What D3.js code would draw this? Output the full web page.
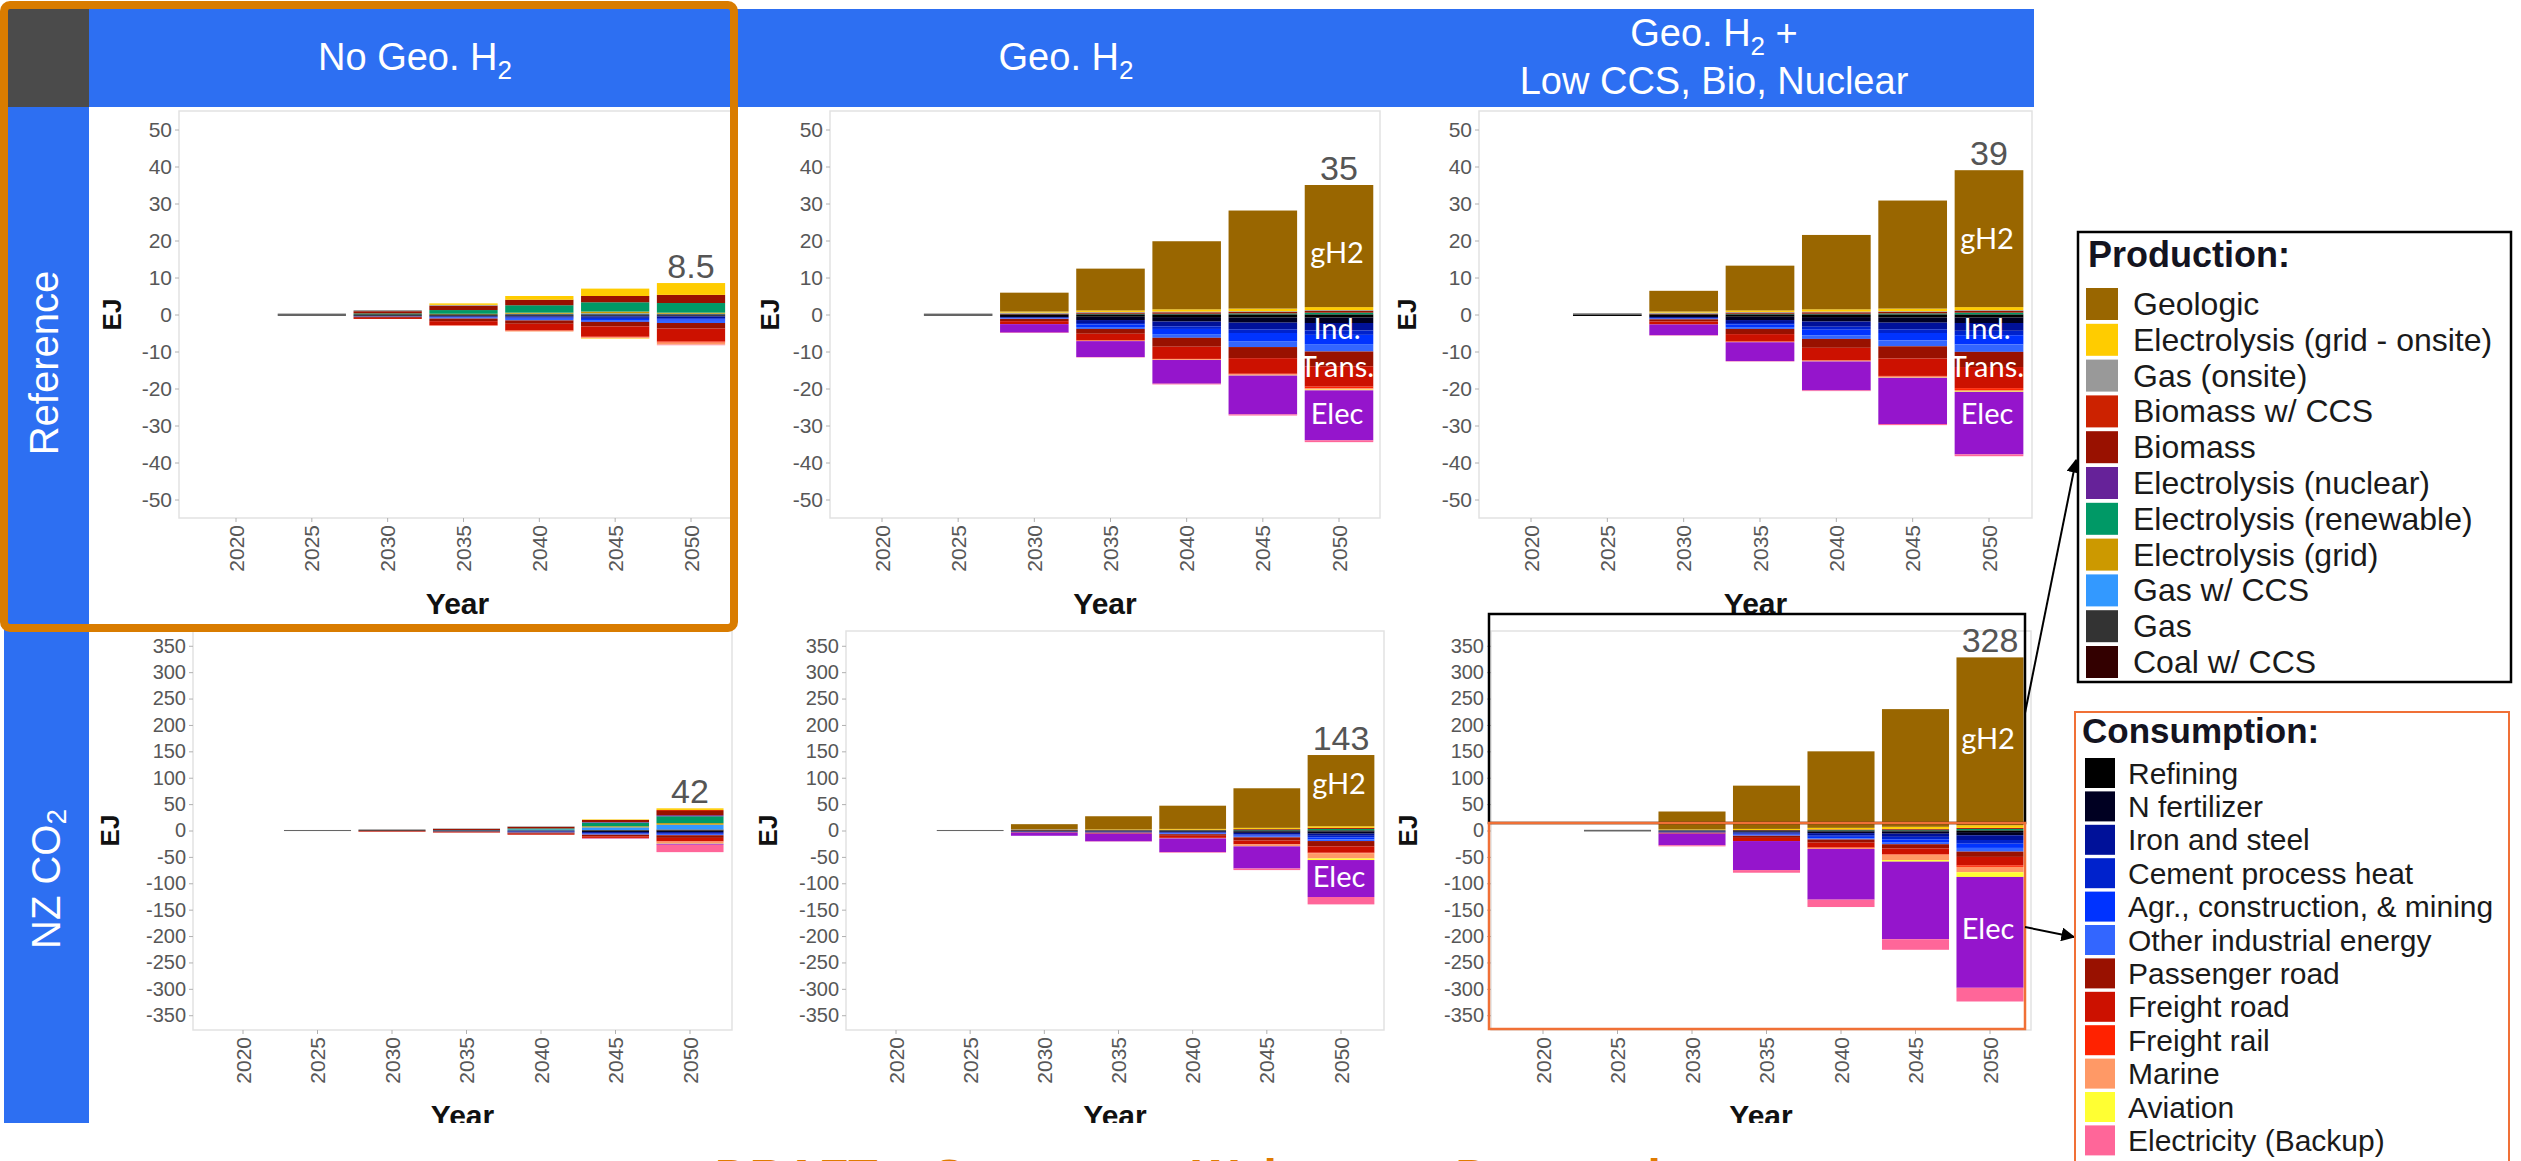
<!DOCTYPE html>
<html>
<head>
<meta charset="utf-8">
<script src="https://cdn.jsdelivr.net/npm/d3@7"></script>
<style>
  html, body { margin: 0; padding: 0; background: #fff; }
  svg { display: block; }
</style>
</head>
<body>
<svg id="chart" width="2521" height="1161"></svg>
<script>
// ---------------------------------------------------------------
// Hydrogen production (positive) and consumption (negative), EJ
// ---------------------------------------------------------------
const years = [2020, 2025, 2030, 2035, 2040, 2045, 2050];

const productionKeys = [
  "Geologic", "Electrolysis (grid - onsite)", "Gas (onsite)", "Biomass w/ CCS",
  "Biomass", "Electrolysis (nuclear)", "Electrolysis (renewable)",
  "Electrolysis (grid)", "Gas w/ CCS", "Gas", "Coal w/ CCS"
];
const productionColors = [
  "#996600", "#ffcc00", "#999999", "#cc2200", "#991100", "#662299",
  "#009966", "#cc9900", "#3399ff", "#333333", "#330000"
];

const consumptionKeys = [
  "Refining", "N fertilizer", "Iron and steel", "Cement process heat",
  "Agr., construction, & mining", "Other industrial energy", "Passenger road",
  "Freight road", "Freight rail", "Marine", "Aviation", "Electricity (Backup)"
];
const consumptionColors = [
  "#000000", "#000022", "#001199", "#0022cc", "#0033ff", "#3366ff",
  "#991100", "#cc1100", "#ff2200", "#ff9966", "#ffff33", "#ff6699"
];
// power-sector hydrogen use, stacked just above the backup electricity
const powerKey = "Electricity";
const powerColor = "#9515cc";

const rowLabels = ["Reference", "NZ CO"];
const columnTitles = [["No Geo. H"], ["Geo. H"], ["Geo. H", "Low CCS, Bio, Nuclear"]];
const refTicks = [50, 40, 30, 20, 10, 0, -10, -20, -30, -40, -50];
const nzTicks = [350, 300, 250, 200, 150, 100, 50, 0, -50, -100, -150, -200, -250, -300, -350];

// ---- Reference, no geologic H2 ----
const refNoGeoSupply = {
  "Electrolysis (grid - onsite)": [0, 0, 0, 0.4, 1.0, 2.0, 3.2],
  "Gas (onsite)":                 [0, 0.3, 0.3, 0.2, 0, 0, 0],
  "Biomass":                      [0, 0, 0.6, 1.2, 1.5, 1.7, 2.2],
  "Electrolysis (renewable)":     [0, 0, 0.3, 1.0, 2.0, 2.5, 2.6],
  "Electrolysis (grid)":          [0, 0, 0, 0.2, 0.3, 0.5, 0.3],
  "Gas w/ CCS":                   [0, 0, 0, 0, 0.2, 0.3, 0.2]
};
const refNoGeoDemand = {
  "Refining":                     [0, 0.3, 0.3, 0.3, 0.3, 0.3, 0.3],
  "N fertilizer":                 [0, 0, 0.1, 0.2, 0.2, 0.2, 0.2],
  "Iron and steel":               [0, 0, 0.1, 0.2, 0.3, 0.4, 0.5],
  "Cement process heat":          [0, 0, 0, 0.1, 0.2, 0.3, 0.3],
  "Agr., construction, & mining": [0, 0, 0, 0.1, 0.2, 0.3, 0.4],
  "Other industrial energy":      [0, 0, 0.1, 0.2, 0.4, 0.5, 0.6],
  "Passenger road":               [0, 0, 0.3, 0.7, 0.9, 1.2, 1.5],
  "Freight road":                 [0, 0, 0.3, 1.1, 1.8, 2.8, 3.5],
  "Freight rail":                 [0, 0, 0, 0.1, 0.1, 0.2, 0.3],
  "Marine":                       [0, 0, 0, 0, 0.2, 0.3, 0.4],
  "Aviation":                     [0, 0, 0, 0, 0, 0.1, 0.1],
  "Electricity (Backup)":         [0, 0, 0, 0, 0, 0, 0.2]
};

// ---- Reference, geologic H2 ----
const refGeoSupply = {
  "Geologic":                     [0, 0, 5.1, 11.3, 18.4, 26.5, 33.0],
  "Electrolysis (grid - onsite)": [0, 0, 0.3, 0.4, 0.6, 0.7, 0.8],
  "Gas (onsite)":                 [0, 0.3, 0.3, 0.2, 0.2, 0.2, 0.2],
  "Biomass":                      [0, 0, 0.2, 0.3, 0.4, 0.4, 0.5],
  "Electrolysis (renewable)":     [0, 0, 0, 0.2, 0.2, 0.3, 0.5]
};
const refGeoDemand = {
  "Refining":                     [0, 0.3, 0.4, 0.6, 0.7, 0.8, 0.8],
  "N fertilizer":                 [0, 0, 0.3, 0.9, 1.2, 1.4, 1.5],
  "Iron and steel":               [0, 0, 0.2, 0.8, 1.3, 1.8, 2.0],
  "Cement process heat":          [0, 0, 0.1, 0.4, 0.7, 1.0, 1.2],
  "Agr., construction, & mining": [0, 0, 0.1, 0.7, 1.4, 2.2, 2.5],
  "Other industrial energy":      [0, 0, 0.1, 0.5, 1.0, 1.6, 2.0],
  "Passenger road":               [0, 0, 0.6, 1.3, 2.4, 3.0, 4.0],
  "Freight road":                 [0, 0, 0.8, 1.8, 3.3, 4.2, 5.5],
  "Freight rail":                 [0, 0, 0, 0.1, 0.1, 0.2, 0.5],
  "Marine":                       [0, 0, 0, 0.1, 0.2, 0.2, 0.3],
  "Aviation":                     [0, 0, 0, 0, 0, 0.1, 0.2],
  "Electricity":                  [0, 0, 2.3, 4.3, 6.4, 10.5, 13.5],
  "Electricity (Backup)":         [0, 0, 0.1, 0.1, 0.2, 0.3, 0.5]
};

// ---- Reference, geologic H2 + low CCS, bio, nuclear ----
const refLowSupply = {
  "Geologic":                     [0, 0, 5.6, 12.1, 20.1, 29.2, 37.0],
  "Electrolysis (grid - onsite)": [0, 0, 0.3, 0.4, 0.6, 0.7, 0.8],
  "Gas (onsite)":                 [0, 0.4, 0.3, 0.2, 0.2, 0.2, 0.2],
  "Biomass":                      [0, 0, 0.2, 0.3, 0.4, 0.4, 0.5],
  "Electrolysis (renewable)":     [0, 0, 0, 0.2, 0.2, 0.3, 0.5]
};
const refLowDemand = {
  "Refining":                     [0, 0.4, 0.4, 0.6, 0.7, 0.8, 0.8],
  "N fertilizer":                 [0, 0, 0.3, 0.9, 1.2, 1.4, 1.5],
  "Iron and steel":               [0, 0, 0.3, 0.8, 1.4, 1.8, 2.1],
  "Cement process heat":          [0, 0, 0.1, 0.4, 0.8, 1.0, 1.2],
  "Agr., construction, & mining": [0, 0, 0.1, 0.7, 1.5, 2.0, 2.5],
  "Other industrial energy":      [0, 0, 0.1, 0.5, 1.0, 1.6, 2.0],
  "Passenger road":               [0, 0, 0.6, 1.4, 2.4, 3.3, 4.1],
  "Freight road":                 [0, 0, 0.8, 2.0, 3.4, 4.7, 5.7],
  "Freight rail":                 [0, 0, 0, 0.1, 0.1, 0.2, 0.5],
  "Marine":                       [0, 0, 0, 0.1, 0.2, 0.2, 0.3],
  "Aviation":                     [0, 0, 0, 0, 0, 0.1, 0.2],
  "Electricity":                  [0, 0, 2.9, 5.1, 7.8, 12.5, 16.9],
  "Electricity (Backup)":         [0, 0, 0.1, 0.1, 0.2, 0.3, 0.5]
};

// ---- Net-zero CO2, no geologic H2 ----
const nzNoGeoSupply = {
  "Electrolysis (grid - onsite)": [0, 0, 0, 0, 0, 1, 3],
  "Gas (onsite)":                 [0, 1, 1.5, 1, 1, 0, 0],
  "Biomass w/ CCS":               [0, 0, 0, 0, 0, 0, 2],
  "Biomass":                      [0, 0, 1, 2, 3, 4, 8],
  "Electrolysis (nuclear)":       [0, 0, 0, 0, 0, 1, 2],
  "Electrolysis (renewable)":     [0, 0, 0, 0, 2, 7, 13],
  "Electrolysis (grid)":          [0, 0, 0, 0, 0, 2, 3],
  "Gas w/ CCS":                   [0, 0, 0, 1, 2, 5, 9],
  "Gas":                          [0, 0, 0, 0, 0, 1, 1],
  "Coal w/ CCS":                  [0, 0, 0, 0, 0, 0, 1]
};
const nzNoGeoDemand = {
  "Refining":                     [0, 1, 1, 1, 0.5, 1, 1],
  "N fertilizer":                 [0, 0, 0, 0.5, 1, 2, 2],
  "Iron and steel":               [0, 0, 0, 0.5, 1, 2, 2],
  "Cement process heat":          [0, 0, 0, 0, 0.5, 1, 1.5],
  "Agr., construction, & mining": [0, 0, 0, 0, 0.5, 1, 1.5],
  "Other industrial energy":      [0, 0, 0, 0, 0.5, 1, 1],
  "Passenger road":               [0, 0, 0.5, 1, 2, 3, 5],
  "Freight road":                 [0, 0, 1, 1, 2, 3, 6],
  "Freight rail":                 [0, 0, 0, 0, 0, 0.5, 1],
  "Marine":                       [0, 0, 0, 0, 0, 0.5, 3],
  "Aviation":                     [0, 0, 0, 0, 0, 0, 1],
  "Electricity":                  [0, 0, 0, 0, 0, 0.5, 2],
  "Electricity (Backup)":         [0, 0, 0, 0, 0, 0.5, 14]
};

// ---- Net-zero CO2, geologic H2 ----
const nzGeoSupply = {
  "Geologic":                     [0, 0, 10, 25, 44, 75, 135],
  "Electrolysis (grid - onsite)": [0, 0, 0, 1, 1.5, 2, 3],
  "Gas (onsite)":                 [0, 1, 1, 0.5, 0, 0, 0],
  "Biomass":                      [0, 0, 1, 0.5, 1, 1.5, 2],
  "Electrolysis (renewable)":     [0, 0, 0, 0, 0.5, 1.5, 3]
};
const nzGeoDemand = {
  "Refining":                     [0, 1, 1, 1, 1, 1.5, 2],
  "N fertilizer":                 [0, 0, 1, 1, 1.5, 3, 4],
  "Iron and steel":               [0, 0, 0.5, 0.8, 1.5, 3, 4],
  "Cement process heat":          [0, 0, 0.5, 0.4, 1, 2, 3],
  "Agr., construction, & mining": [0, 0, 0, 0.4, 1, 2, 4],
  "Other industrial energy":      [0, 0, 0, 0.4, 1, 1.5, 3],
  "Passenger road":               [0, 0, 0.5, 1, 3, 6, 10],
  "Freight road":                 [0, 0, 0.5, 1, 4, 7, 12],
  "Freight rail":                 [0, 0, 0, 0, 0, 0.5, 1],
  "Marine":                       [0, 0, 0, 0, 1, 3, 10],
  "Aviation":                     [0, 0, 0, 0, 0, 0.5, 3],
  "Electricity":                  [0, 0, 6, 14.5, 26, 42, 70],
  "Electricity (Backup)":         [0, 0, 0, 0.5, 1, 3, 14]
};

// ---- Net-zero CO2, geologic H2 + low CCS, bio, nuclear ----
const nzLowSupply = {
  "Geologic":                     [0, 0, 34, 82, 145, 223, 318],
  "Electrolysis (grid - onsite)": [0, 0, 1, 2, 3, 4, 5],
  "Gas (onsite)":                 [0, 1.5, 1, 0, 0, 0, 0],
  "Biomass":                      [0, 0, 0, 1, 1, 1.5, 2],
  "Electrolysis (renewable)":     [0, 0, 0, 0, 1, 1.5, 3]
};
const nzLowDemand = {
  "Refining":                     [0, 1.5, 1, 1.5, 2, 2, 3],
  "N fertilizer":                 [0, 0, 1, 2, 3, 4, 6],
  "Iron and steel":               [0, 0, 1, 2.5, 4, 6, 9],
  "Cement process heat":          [0, 0, 0.5, 1.5, 3, 5, 7],
  "Agr., construction, & mining": [0, 0, 0.3, 1.5, 3, 5, 8],
  "Other industrial energy":      [0, 0, 0.2, 1, 2, 4, 7],
  "Passenger road":               [0, 0, 1, 4, 6, 8, 10],
  "Freight road":                 [0, 0, 1, 6, 9, 11, 16],
  "Freight rail":                 [0, 0, 0, 0, 1, 1, 3],
  "Marine":                       [0, 0, 0, 0, 2, 10, 10],
  "Aviation":                     [0, 0, 0, 0, 0, 3, 9],
  "Electricity":                  [0, 0, 22, 55, 96, 147, 210],
  "Electricity (Backup)":         [0, 0, 2, 5, 14, 20, 26]
};

// callouts written on the 2050 bars (label, EJ position)
const refGeoNotes = [["gH2", 17], ["Ind.", -3.5], ["Trans.", -13.7], ["Elec", -26.4]];
const refLowNotes = [["gH2", 20.8], ["Ind.", -3.5], ["Trans.", -13.7], ["Elec", -26.4]];
const nzGeoNotes = [["gH2", 91], ["Elec", -85]];
const nzLowNotes = [["gH2", 176], ["Elec", -184]];

// ---------------------------------------------------------------
const BLUE = "#2d6ff2";
const FONT = "'Liberation Sans', Arial, sans-serif";
const W = 2521, H = 1161;
const svg = d3.select("#chart");

// stacking order: production builds up from zero (last legend entry nearest zero),
// consumption builds down from zero (first legend entry nearest zero)
const stackKeys = [...productionKeys].reverse()
  .concat(consumptionKeys.slice(0, -1), [powerKey], consumptionKeys.slice(-1));
const colorOf = k => {
  const pi = productionKeys.indexOf(k);
  if (pi >= 0) return productionColors[pi];
  if (k === powerKey) return powerColor;
  return consumptionColors[consumptionKeys.indexOf(k)];
};

const defs = svg.append("defs");
defs.append("clipPath").attr("id", "pageClip")
  .append("rect").attr("x", 0).attr("y", 0).attr("width", W).attr("height", 1123);
defs.append("marker").attr("id", "arrowHead")
  .attr("viewBox", "0 0 10 10").attr("refX", 9).attr("refY", 5)
  .attr("markerWidth", 7).attr("markerHeight", 7).attr("orient", "auto")
  .append("path").attr("d", "M0,0 L10,5 L0,10 z").attr("fill", "#000");

svg.append("rect").attr("width", W).attr("height", H).attr("fill", "#fff");

// facet strips
svg.append("rect").attr("x", 89).attr("y", 9).attr("width", 2034 - 89).attr("height", 98).attr("fill", BLUE);
svg.append("rect").attr("x", 4).attr("y", 9).attr("width", 85).attr("height", 98).attr("fill", "#4b4b4b");
svg.append("rect").attr("x", 4).attr("y", 107).attr("width", 85).attr("height", 1123 - 107).attr("fill", BLUE);

// column titles
const titleCenters = [415, 1066, 1714];
function h2Title(sel, main, after) {
  sel.append("tspan").text(main);
  sel.append("tspan").attr("font-size", 26).attr("dy", 9).text("2");
  if (after) sel.append("tspan").attr("dy", -9).text(after);
}
[0, 1].forEach(i => {
  const t = svg.append("text").attr("x", titleCenters[i]).attr("y", 70)
    .attr("text-anchor", "middle").attr("fill", "#fff")
    .attr("font-family", FONT).attr("font-size", 38);
  h2Title(t, columnTitles[i][0], null);
});
{
  const t = svg.append("text").attr("x", titleCenters[2]).attr("y", 46)
    .attr("text-anchor", "middle").attr("fill", "#fff")
    .attr("font-family", FONT).attr("font-size", 38);
  h2Title(t, columnTitles[2][0], " +");
  svg.append("text").attr("x", titleCenters[2]).attr("y", 94)
    .attr("text-anchor", "middle").attr("fill", "#fff")
    .attr("font-family", FONT).attr("font-size", 38).text(columnTitles[2][1]);
}

// row titles
svg.append("text").attr("transform", "translate(44,363) rotate(-90)")
  .attr("text-anchor", "middle").attr("dominant-baseline", "central")
  .attr("fill", "#fff").attr("font-family", FONT).attr("font-size", 40).text(rowLabels[0]);
{
  const t = svg.append("text").attr("transform", "translate(46,879) rotate(-90)")
    .attr("text-anchor", "middle").attr("dominant-baseline", "central")
    .attr("fill", "#fff").attr("font-family", FONT).attr("font-size", 40);
  t.append("tspan").text(rowLabels[1]);
  t.append("tspan").attr("font-size", 28).attr("dy", 10).text("2");
}

// ---------------------------------------------------------------
const panels = [
  { supply: refNoGeoSupply, demand: refNoGeoDemand, notes: [],
    x0: 179, x1: 736, y0: 111, y1: 518, first: 236, last: 691, yMax: 55, ticks: refTicks, ejX: 112, row: 0 },
  { supply: refGeoSupply, demand: refGeoDemand, notes: refGeoNotes,
    x0: 830, x1: 1380, y0: 111, y1: 518, first: 882, last: 1339, yMax: 55, ticks: refTicks, ejX: 770, row: 0 },
  { supply: refLowSupply, demand: refLowDemand, notes: refLowNotes,
    x0: 1479, x1: 2032, y0: 111, y1: 518, first: 1531, last: 1989, yMax: 55, ticks: refTicks, ejX: 1407, row: 0 },
  { supply: nzNoGeoSupply, demand: nzNoGeoDemand, notes: [],
    x0: 193, x1: 732, y0: 631, y1: 1030, first: 243, last: 690, yMax: 378, ticks: nzTicks, ejX: 110, row: 1 },
  { supply: nzGeoSupply, demand: nzGeoDemand, notes: nzGeoNotes,
    x0: 846, x1: 1384, y0: 631, y1: 1030, first: 896, last: 1341, yMax: 378, ticks: nzTicks, ejX: 768, row: 1 },
  { supply: nzLowSupply, demand: nzLowDemand, notes: nzLowNotes,
    x0: 1491, x1: 2031, y0: 631, y1: 1030, first: 1543, last: 1990, yMax: 378, ticks: nzTicks, ejX: 1408, row: 1 }
];

function drawPanel(p) {
  const g = svg.append("g");
  const step = (p.last - p.first) / (years.length - 1);
  const x = d3.scaleBand().domain(years)
    .range([p.first - step / 2, p.last + step / 2])
    .paddingInner(0.1).paddingOuter(0.05);
  const y = d3.scaleLinear().domain([-p.yMax, p.yMax]).range([p.y1, p.y0]);

  g.append("rect").attr("x", p.x0).attr("y", p.y0)
    .attr("width", p.x1 - p.x0).attr("height", p.y1 - p.y0)
    .attr("fill", "#fff").attr("stroke", "#e2e2e2").attr("stroke-width", 1.5);

  const rows = years.map((yr, i) => {
    const r = { year: yr };
    stackKeys.forEach(k => {
      if (p.supply[k]) r[k] = p.supply[k][i];
      else if (p.demand[k]) r[k] = -p.demand[k][i];
      else r[k] = 0;
    });
    return r;
  });
  const series = d3.stack().keys(stackKeys).offset(d3.stackOffsetDiverging)(rows);

  g.append("g").selectAll("g").data(series).join("g")
    .attr("fill", d => colorOf(d.key))
    .selectAll("rect").data(d => d.filter(s => s[1] !== s[0])).join("rect")
    .attr("x", d => x(d.data.year))
    .attr("width", x.bandwidth())
    .attr("y", d => y(Math.max(d[0], d[1])))
    .attr("height", d => Math.abs(y(d[0]) - y(d[1])));

  // y axis
  const ya = g.append("g").attr("transform", `translate(${p.x0},0)`)
    .call(d3.axisLeft(y).tickValues(p.ticks).tickSize(4).tickPadding(3).tickFormat(d => String(d)));
  ya.select(".domain").remove();
  ya.selectAll("line").attr("stroke", "#b0b0b0");
  ya.selectAll("text").attr("fill", "#575757").attr("font-family", FONT)
    .attr("font-size", p.row === 0 ? 21 : 20);

  // x axis
  const clip = p.row === 1 ? "url(#pageClip)" : null;
  const xa = g.append("g").attr("transform", `translate(0,${p.y1})`)
    .call(d3.axisBottom(x).tickSize(4).tickPadding(3));
  xa.select(".domain").remove();
  xa.selectAll("line").attr("stroke", "#b0b0b0");
  xa.selectAll("text").attr("fill", "#575757").attr("font-family", FONT).attr("font-size", 21)
    .attr("transform", "rotate(-90)").attr("text-anchor", "end")
    .attr("x", -7).attr("y", 0).attr("dy", "0.36em");

  // axis titles
  g.append("text").attr("x", (p.x0 + p.x1) / 2).attr("y", p.y1 + 96)
    .attr("text-anchor", "middle").attr("font-family", FONT).attr("font-weight", "bold")
    .attr("font-size", 30).attr("fill", "#111").attr("clip-path", clip).text("Year");
  g.append("text").attr("transform", `translate(${p.ejX},${(p.y0 + p.y1) / 2}) rotate(-90)`)
    .attr("text-anchor", "middle").attr("dominant-baseline", "central")
    .attr("font-family", FONT).attr("font-weight", "bold").attr("font-size", 26)
    .attr("fill", "#111").text("EJ");

  // 2050 production total above the bar
  const last = years.length - 1;
  const total = productionKeys.reduce((s, k) => s + (p.supply[k] ? p.supply[k][last] : 0), 0);
  const totalText = total < 10 ? total.toFixed(1) : String(Math.round(total));
  const cx = x(years[last]) + x.bandwidth() / 2;
  g.append("text").attr("x", cx).attr("y", y(total) - 5)
    .attr("text-anchor", "middle").attr("font-family", FONT).attr("font-size", 34)
    .attr("fill", "#555").text(totalText);

  // callouts on the 2050 bar
  g.selectAll("text.note").data(p.notes).join("text").attr("class", "note")
    .attr("x", cx - 2).attr("y", d => y(d[1]))
    .attr("text-anchor", "middle").attr("dominant-baseline", "central")
    .attr("font-family", "Lato, 'Open Sans', sans-serif").attr("font-size", 29)
    .attr("fill", "#fff").text(d => d[0]);
}
panels.forEach(drawPanel);

// ---------------------------------------------------------------
// highlight frames and pointers
svg.append("rect").attr("x", 4).attr("y", 5).attr("width", 730).attr("height", 623)
  .attr("rx", 6).attr("fill", "none").attr("stroke", "#d97c00").attr("stroke-width", 8);
svg.append("rect").attr("x", 1489).attr("y", 614).attr("width", 2025 - 1489).attr("height", 823 - 614)
  .attr("fill", "none").attr("stroke", "#000").attr("stroke-width", 2.5);
svg.append("rect").attr("x", 1489).attr("y", 823).attr("width", 2025 - 1489).attr("height", 1029 - 823)
  .attr("fill", "none").attr("stroke", "#f07036").attr("stroke-width", 2.5);
svg.append("line").attr("x1", 2025).attr("y1", 713).attr("x2", 2076).attr("y2", 460)
  .attr("stroke", "#000").attr("stroke-width", 2).attr("marker-end", "url(#arrowHead)");
svg.append("line").attr("x1", 2025).attr("y1", 927).attr("x2", 2074).attr("y2", 937)
  .attr("stroke", "#000").attr("stroke-width", 2).attr("marker-end", "url(#arrowHead)");

// ---------------------------------------------------------------
// legends
function drawLegend(o) {
  const g = svg.append("g");
  g.append("rect").attr("x", o.bx).attr("y", o.by).attr("width", o.bw).attr("height", o.bh)
    .attr("fill", "#fff").attr("stroke", o.stroke).attr("stroke-width", o.strokeW);
  g.append("text").attr("x", o.tx).attr("y", o.ty).attr("font-family", FONT)
    .attr("font-weight", "bold").attr("font-size", o.titleSize).attr("fill", "#14141f").text(o.title);
  const items = g.selectAll("g.item").data(o.keys).join("g").attr("class", "item")
    .attr("transform", (d, i) => `translate(0,${o.cy0 + i * o.pitch})`);
  items.append("rect").attr("x", o.sx).attr("y", -o.sw / 2).attr("width", o.sw).attr("height", o.sw)
    .attr("fill", (d, i) => o.colors[i]);
  items.append("text").attr("x", o.lx).attr("y", 0).attr("dominant-baseline", "central")
    .attr("font-family", FONT).attr("font-size", o.fontSize).attr("fill", "#1a1a1a").text(d => d);
}
drawLegend({
  bx: 2078, by: 232, bw: 433, bh: 450, stroke: "#000", strokeW: 2.5,
  tx: 2088, ty: 267, titleSize: 36, title: "Production:",
  keys: productionKeys, colors: productionColors,
  cy0: 304, pitch: 35.8, sx: 2086, sw: 32, lx: 2133, fontSize: 32
});
drawLegend({
  bx: 2075, by: 712, bw: 434, bh: 470, stroke: "#f07036", strokeW: 2,
  tx: 2082, ty: 743, titleSize: 35, title: "Consumption:",
  keys: consumptionKeys, colors: consumptionColors,
  cy0: 773, pitch: 33.4, sx: 2085, sw: 30, lx: 2128, fontSize: 30
});

// footer banner (runs off the bottom edge)
svg.append("text").attr("x", 715).attr("y", 1193)
  .attr("font-family", FONT).attr("font-weight", "bold").attr("font-size", 48)
  .attr("fill", "#e07b00").text("DRAFT – Comments Welcome – Do not cite or quote");
</script>
</body>
</html>
